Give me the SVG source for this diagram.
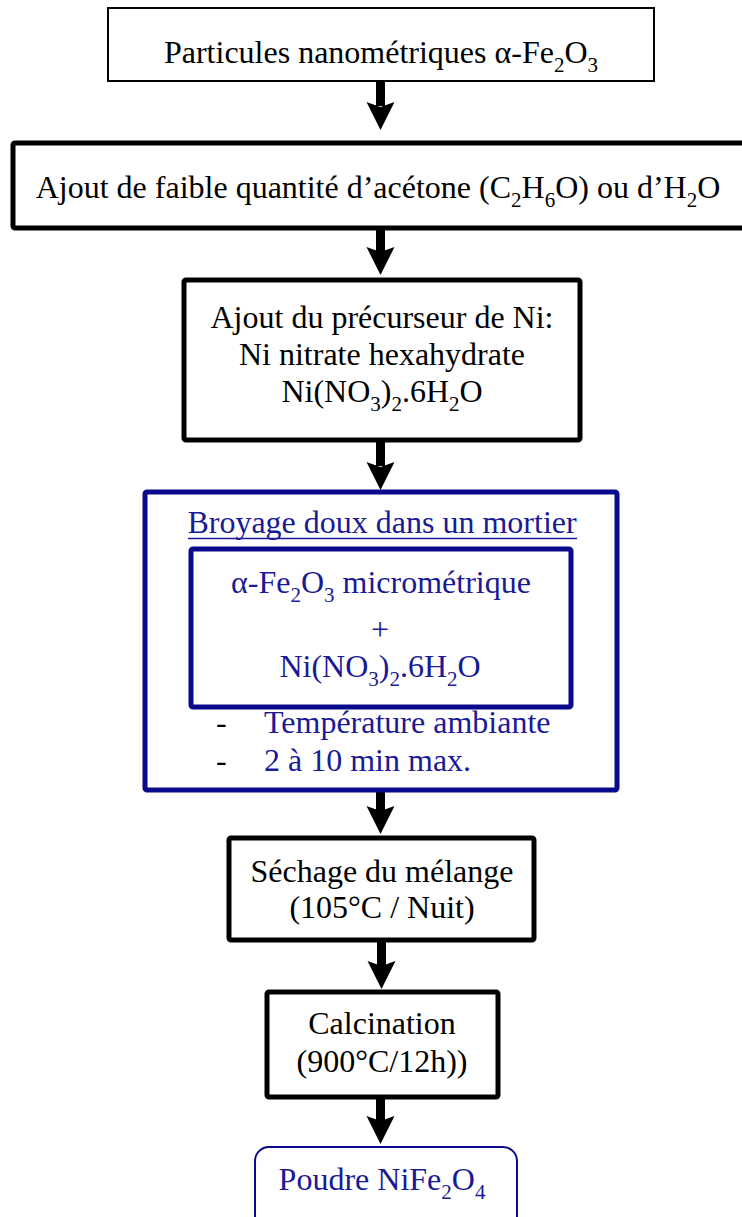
<svg xmlns="http://www.w3.org/2000/svg" width="742" height="1217" viewBox="0 0 742 1217">
  <style>
    .t { font-family: "Liberation Serif", "Times New Roman", serif; font-size: 32px; fill: #000; }
    .b { fill: #1a1a96; }
    .c { text-anchor: middle; }
    .sub { font-size: 21px; }
    .box { fill: #fff; stroke: #000; stroke-width: 5; }
    .thin { stroke-width: 2; }
    .bbox { fill: #fff; stroke: #0a0a8c; stroke-width: 5; }
    .arrow { fill: #000; }
  </style>
  <defs>
    <!-- notched arrow head, tip at the origin, pointing down -->
    <path id="head" d="M0,0 L-14,-28 L0,-23 L14,-28 Z"/>
  </defs>

  <g id="connectors" class="arrow">
    <rect x="376" y="82" width="9" height="24"/>
    <use href="#head" x="380.5" y="130"/>
    <rect x="376" y="229" width="9" height="24"/>
    <use href="#head" x="380.5" y="275"/>
    <rect x="376" y="441" width="9" height="25"/>
    <use href="#head" x="380.5" y="490"/>
    <rect x="376" y="791" width="9" height="20"/>
    <use href="#head" x="380.5" y="834"/>
    <rect x="377" y="941" width="9" height="25"/>
    <use href="#head" x="381.5" y="989"/>
    <rect x="376" y="1098" width="9" height="25"/>
    <use href="#head" x="380.5" y="1144"/>
  </g>

  <g id="n1">
    <rect class="box thin" x="108" y="8" width="546" height="73"/>
    <text class="t c" x="381" y="63">Particules nanométriques α-Fe<tspan class="sub" dy="9">2</tspan><tspan dy="-9">O</tspan><tspan class="sub" dy="9">3</tspan></text>
  </g>

  <g id="n2">
    <rect class="box" x="13" y="143" width="735" height="85" rx="2"/>
    <text class="t c" x="378" y="198">Ajout de faible quantité d’acétone (C<tspan class="sub" dy="9">2</tspan><tspan dy="-9">H</tspan><tspan class="sub" dy="9">6</tspan><tspan dy="-9">O) ou d’H</tspan><tspan class="sub" dy="9">2</tspan><tspan dy="-9">O</tspan></text>
  </g>

  <g id="n3">
    <rect class="box" x="184" y="280" width="396" height="160" rx="2"/>
    <text class="t c" x="382" y="328">Ajout du précurseur de Ni:</text>
    <text class="t c" x="382" y="365">Ni nitrate hexahydrate</text>
    <text class="t c" x="382" y="402">Ni(NO<tspan class="sub" dy="9">3</tspan><tspan dy="-9">)</tspan><tspan class="sub" dy="9">2</tspan><tspan dy="-9">.6H</tspan><tspan class="sub" dy="9">2</tspan><tspan dy="-9">O</tspan></text>
  </g>

  <g id="n4">
    <rect class="bbox" x="145" y="492" width="472" height="298" rx="2"/>
    <text class="t b c" x="382" y="533">Broyage doux dans un mortier</text>
    <line x1="188" y1="538.5" x2="577" y2="538.5" stroke="#1a1a96" stroke-width="1.6"/>
    <rect class="bbox" x="191" y="549" width="380" height="158" rx="2"/>
    <text class="t b c" x="381" y="593">α-Fe<tspan class="sub" dy="9">2</tspan><tspan dy="-9">O</tspan><tspan class="sub" dy="9">3</tspan><tspan dy="-9"> micrométrique</tspan></text>
    <text class="t b c" x="380" y="640">+</text>
    <text class="t b c" x="380" y="677">Ni(NO<tspan class="sub" dy="9">3</tspan><tspan dy="-9">)</tspan><tspan class="sub" dy="9">2</tspan><tspan dy="-9">.6H</tspan><tspan class="sub" dy="9">2</tspan><tspan dy="-9">O</tspan></text>
    <text class="t" x="216" y="733">-</text>
    <text class="t b" x="264" y="733">Température ambiante</text>
    <text class="t" x="216" y="771">-</text>
    <text class="t b" x="264" y="771">2 à 10 min max.</text>
  </g>

  <g id="n5">
    <rect class="box" x="229" y="838" width="305" height="102" rx="2"/>
    <text class="t c" x="382" y="882">Séchage du mélange</text>
    <text class="t c" x="382" y="918">(105°C / Nuit)</text>
  </g>

  <g id="n6">
    <rect class="box" x="267" y="992" width="231" height="105" rx="2"/>
    <text class="t c" x="382" y="1034">Calcination</text>
    <text class="t c" x="382" y="1072">(900°C/12h))</text>
  </g>

  <g id="n7">
    <rect x="255" y="1147" width="262" height="90" rx="14" fill="#fff" stroke="#0a0a8c" stroke-width="2"/>
    <text class="t b c" x="382" y="1190">Poudre NiFe<tspan class="sub" dy="9">2</tspan><tspan dy="-9">O</tspan><tspan class="sub" dy="9">4</tspan></text>
  </g>
</svg>
